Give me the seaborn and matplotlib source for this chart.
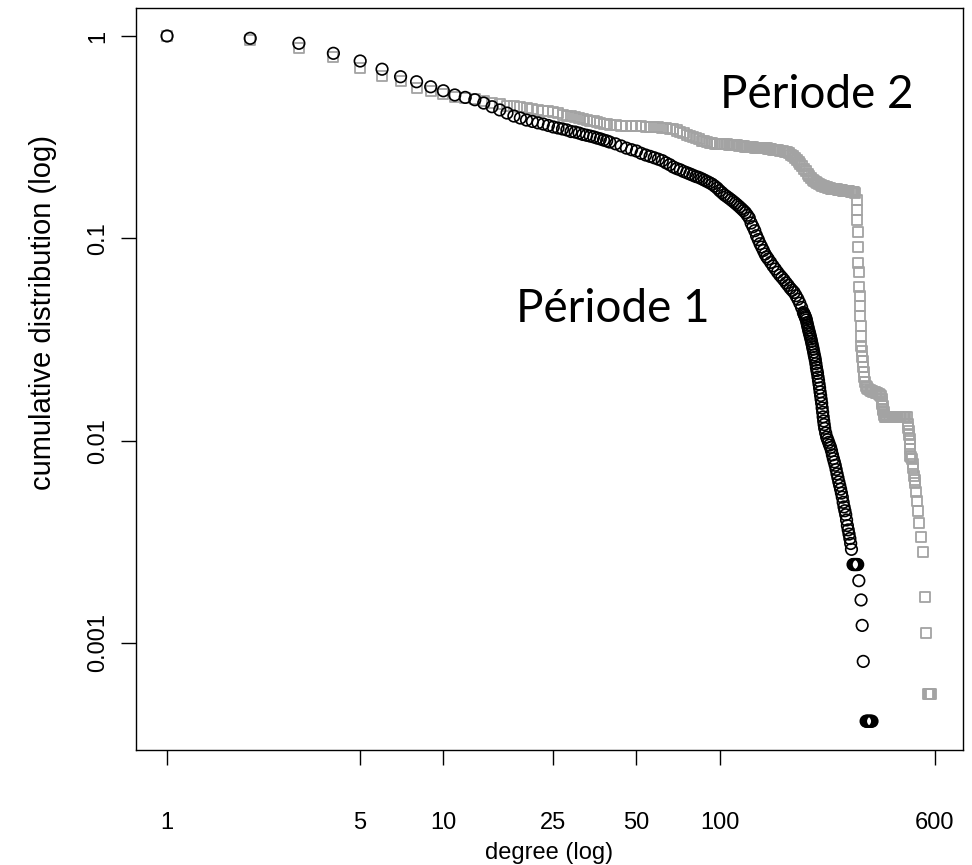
import matplotlib
matplotlib.use("Agg")
import matplotlib.pyplot as plt
from matplotlib.ticker import NullLocator
import pandas as pd
import seaborn as sns

# Cumulative degree distribution, period 1 (circles)
deg_p1 = [1, 2, 3, 4, 5, 6, 7, 8, 9, 10,
          11, 12, 13, 14, 15, 16, 17, 18, 19, 20,
          21, 22, 23, 24, 25, 26, 27, 28, 29, 30,
          31, 32, 33, 34, 35, 36, 37, 38, 39, 40,
          42, 44, 46, 48, 50, 52, 54, 56, 58, 60,
          62, 64, 66, 68, 70, 72, 74, 76, 78, 80,
          82, 84, 86, 88, 90, 92, 94, 96, 98, 100,
          102, 104, 106, 108, 110, 112, 114, 116, 118, 120,
          122, 124, 126, 128, 130, 132, 134, 136, 138, 140,
          142, 144, 146, 148, 150, 153, 156, 159, 162, 165,
          168, 171, 174, 177, 180, 183, 186, 189, 192, 195,
          198, 201, 202, 203, 204, 205, 206, 207, 208, 209,
          210, 211, 212, 213, 214, 215, 216, 217, 218, 219,
          220, 221, 222, 223, 224, 225, 226, 227, 228, 229,
          230, 231, 232, 233, 234, 235, 236, 237, 238, 239,
          240, 242, 244, 246, 248, 250, 252, 254, 256, 258,
          260, 262, 264, 266, 268, 270, 272, 274, 276, 278,
          280, 282, 284, 286, 288, 290, 292, 294, 296, 298,
          300, 304, 306, 308, 310, 312, 314, 316, 319, 325,
          328, 331, 339, 341, 344, 347, 350, 353, 356]
cdf_p1 = [1.0, 0.974, 0.920, 0.821, 0.752, 0.685, 0.629, 0.594, 0.561, 0.536,
          0.511, 0.497, 0.484, 0.466, 0.447, 0.431, 0.416, 0.402, 0.393, 0.384,
          0.378, 0.372, 0.367, 0.361, 0.355, 0.351, 0.347, 0.343, 0.337, 0.335,
          0.331, 0.326, 0.323, 0.320, 0.317, 0.313, 0.310, 0.306, 0.303, 0.299,
          0.293, 0.286, 0.279, 0.274, 0.270, 0.263, 0.258, 0.254, 0.250, 0.246,
          0.242, 0.236, 0.231, 0.225, 0.221, 0.218, 0.214, 0.211, 0.208, 0.205,
          0.202, 0.200, 0.197, 0.194, 0.191, 0.188, 0.185, 0.181, 0.177, 0.172,
          0.168, 0.164, 0.161, 0.158, 0.155, 0.152, 0.149, 0.146, 0.143, 0.140,
          0.137, 0.134, 0.130, 0.126, 0.119, 0.114, 0.109, 0.103, 0.0985, 0.0940,
          0.0905, 0.0870, 0.0836, 0.0810, 0.0790, 0.0760, 0.0730, 0.0705, 0.0680, 0.0658,
          0.0640, 0.0622, 0.0602, 0.0585, 0.0567, 0.0553, 0.0540, 0.0520, 0.0500, 0.0478,
          0.0455, 0.0430, 0.0423, 0.0417, 0.0410, 0.0403, 0.0395, 0.0383, 0.0372, 0.0362,
          0.0352, 0.0343, 0.0335, 0.0326, 0.0318, 0.0309, 0.0300, 0.0291, 0.0283, 0.0274,
          0.0265, 0.0258, 0.0250, 0.0240, 0.0230, 0.0222, 0.0215, 0.0206, 0.0198, 0.0190,
          0.0182, 0.0174, 0.0167, 0.0160, 0.0153, 0.0145, 0.0138, 0.0131, 0.0125, 0.0120,
          0.0115, 0.0109, 0.0104, 0.0101, 0.00980, 0.00950, 0.00925, 0.00890, 0.00850, 0.00815,
          0.00785, 0.00755, 0.00720, 0.00685, 0.00655, 0.00625, 0.00600, 0.00575, 0.00550, 0.00525,
          0.00495, 0.00470, 0.00450, 0.00430, 0.00405, 0.00380, 0.00362, 0.00345, 0.00328, 0.00310,
          0.00290, 0.00244, 0.00244, 0.00244, 0.00244, 0.00244, 0.00244, 0.00244, 0.00203, 0.00163,
          0.00122, 0.00081, 0.00041, 0.00041, 0.00041, 0.00041, 0.00041, 0.00041, 0.00041]

# Cumulative degree distribution, period 2 (squares)
deg_p2 = [1, 2, 3, 4, 5, 6, 7, 8, 9, 10,
          11, 12, 13, 14, 15, 16, 17, 18, 19, 20,
          21, 22, 23, 24, 25, 26, 27, 28, 29, 30,
          31, 32, 33, 34, 35, 36, 37, 38, 39, 40,
          42, 44, 46, 48, 50, 52, 54, 56, 58, 60,
          62, 64, 66, 68, 70, 72, 74, 76, 78, 80,
          82, 84, 86, 88, 90, 92, 94, 96, 98, 100,
          102, 104, 106, 108, 110, 112, 114, 116, 118, 120,
          122, 124, 126, 128, 130, 132, 134, 136, 138, 140,
          142, 144, 146, 148, 150, 152, 154, 156, 158, 160,
          163, 166, 169, 172, 175, 178, 181, 184, 187, 190,
          193, 196, 199, 202, 205, 208, 211, 214, 217, 220,
          223, 226, 229, 232, 235, 238, 241, 244, 247, 250,
          253, 256, 259, 262, 265, 268, 271, 274, 277, 280,
          283, 286, 289, 292, 295, 298, 301, 304, 307, 310,
          313, 314, 315, 316, 317, 318, 319, 320, 321, 322,
          323, 324, 325, 326, 327, 328, 329, 330, 332, 334,
          336, 338, 341, 345, 349, 352, 356, 360, 364, 368,
          372, 376, 380, 383, 386, 387, 388, 389, 390, 391,
          392, 394, 396, 400, 405, 410, 415, 420, 425, 430,
          435, 440, 445, 450, 455, 460, 465, 470, 475, 480,
          482, 484, 486, 487, 488, 489, 490, 493, 496, 499,
          502, 505, 508, 510, 513, 518, 522, 528, 536, 546,
          553, 560, 570, 573, 576, 580]
cdf_p2 = [1.0, 0.955, 0.869, 0.784, 0.697, 0.634, 0.599, 0.555, 0.536, 0.517,
          0.501, 0.495, 0.487, 0.477, 0.466, 0.461, 0.453, 0.451, 0.446, 0.443,
          0.438, 0.433, 0.428, 0.426, 0.421, 0.414, 0.407, 0.402, 0.400, 0.398,
          0.393, 0.389, 0.385, 0.382, 0.379, 0.376, 0.371, 0.367, 0.366, 0.365,
          0.362, 0.360, 0.359, 0.359, 0.358, 0.357, 0.355, 0.355, 0.355, 0.353,
          0.352, 0.351, 0.348, 0.345, 0.341, 0.336, 0.331, 0.325, 0.321, 0.317,
          0.313, 0.309, 0.304, 0.301, 0.299, 0.297, 0.296, 0.294, 0.293, 0.292,
          0.292, 0.291, 0.291, 0.290, 0.289, 0.289, 0.288, 0.288, 0.287, 0.286,
          0.285, 0.284, 0.284, 0.283, 0.283, 0.282, 0.281, 0.281, 0.280, 0.279,
          0.279, 0.279, 0.278, 0.278, 0.277, 0.276, 0.275, 0.274, 0.274, 0.273,
          0.272, 0.270, 0.269, 0.267, 0.266, 0.263, 0.259, 0.255, 0.250, 0.245,
          0.239, 0.233, 0.227, 0.221, 0.215, 0.209, 0.203, 0.198, 0.194, 0.191,
          0.189, 0.187, 0.186, 0.184, 0.182, 0.181, 0.180, 0.179, 0.178, 0.177,
          0.176, 0.176, 0.175, 0.175, 0.175, 0.174, 0.174, 0.173, 0.173, 0.172,
          0.172, 0.171, 0.171, 0.171, 0.171, 0.170, 0.170, 0.169, 0.169, 0.168,
          0.154, 0.138, 0.123, 0.107, 0.091, 0.0758, 0.0678, 0.0577, 0.0516, 0.0461,
          0.0411, 0.0367, 0.0327, 0.0293, 0.0277, 0.0260, 0.0246, 0.0232, 0.0218, 0.0206,
          0.0195, 0.0186, 0.0183, 0.0180, 0.0178, 0.0176, 0.0175, 0.0174, 0.0173, 0.0172,
          0.0171, 0.0170, 0.0168, 0.0166, 0.0161, 0.0156, 0.0152, 0.0148, 0.0144, 0.0141,
          0.0138, 0.0134, 0.0131, 0.0131, 0.0131, 0.0131, 0.0131, 0.0131, 0.0131, 0.0131,
          0.0131, 0.0131, 0.0131, 0.0131, 0.0131, 0.0131, 0.0131, 0.0131, 0.0131, 0.0121,
          0.0116, 0.0111, 0.0106, 0.0102, 0.00966, 0.00913, 0.00843, 0.00830, 0.00815, 0.00770,
          0.00728, 0.00672, 0.00640, 0.00615, 0.00559, 0.00503, 0.00447, 0.00391, 0.00335, 0.00280,
          0.00168, 0.00112, 0.00056, 0.00056, 0.00056, 0.00056]

x_ticks = [1, 5, 10, 25, 50, 100, 600]
x_tick_labels = ["1", "5", "10", "25", "50", "100", "600"]
y_ticks = [1, 0.1, 0.01, 0.001]
y_tick_labels = ["1", "0.1", "0.01", "0.001"]

sns.set_theme(style="white")
plt.rcParams["font.family"] = ["Liberation Sans", "DejaVu Sans"]

W, H = 972, 865
fig = plt.figure(figsize=(W / 100, H / 100), dpi=100)
left, right, top, bottom = 136, 963, 8, 750
ax = fig.add_axes([left / W, 1 - bottom / H, (right - left) / W, (bottom - top) / H])

period2 = pd.DataFrame({"degree": deg_p2, "cdf": cdf_p2})
period1 = pd.DataFrame({"degree": deg_p1, "cdf": cdf_p1})

sns.scatterplot(data=period2, x="degree", y="cdf", marker="s", s=52,
                facecolors="none", edgecolor="#a3a3a3", linewidth=1.3, ax=ax)
sns.scatterplot(data=period1, x="degree", y="cdf", marker="o", s=69,
                facecolors="none", edgecolor="black", linewidth=1.2, ax=ax)

ax.set_xscale("log")
ax.set_yscale("log")
ax.set_xlim(0.772, 760)
ax.set_ylim(2.955e-4, 1.375)

ax.set_xticks(x_ticks)
ax.set_xticklabels(x_tick_labels)
ax.set_yticks(y_ticks)
ax.set_yticklabels(y_tick_labels, rotation=90, va="center")
ax.xaxis.set_minor_locator(NullLocator())
ax.yaxis.set_minor_locator(NullLocator())
ax.tick_params(axis="both", which="major", direction="out", length=11, width=1.0,
               color="black", labelcolor="black", labelsize=17, bottom=True, left=True)
ax.tick_params(axis="x", pad=33.5)
ax.tick_params(axis="y", pad=8.5)

for sp in ax.spines.values():
    sp.set_visible(True)
    sp.set_color("black")
    sp.set_linewidth(1.0)

ax.set_xlabel("degree (log)", fontsize=17, color="black")
ax.set_ylabel("cumulative distribution (log)", fontsize=21, color="black")
ax.xaxis.set_label_coords(0.5, -(853 - bottom) / (bottom - top))
ax.xaxis.label.set_va("center")
ax.yaxis.set_label_coords(-(left - 43) / (right - left), (bottom - 312) / (bottom - top))
ax.yaxis.label.set_va("center")

ax.text(225, 0.511, "Période 2", fontsize=33, family=["Lato", "DejaVu Sans"],
        ha="center", va="center", color="black")
ax.text(41.1, 0.0447, "Période 1", fontsize=33, family=["Lato", "DejaVu Sans"],
        ha="center", va="center", color="black")

fig.savefig("out.png", dpi=100)
